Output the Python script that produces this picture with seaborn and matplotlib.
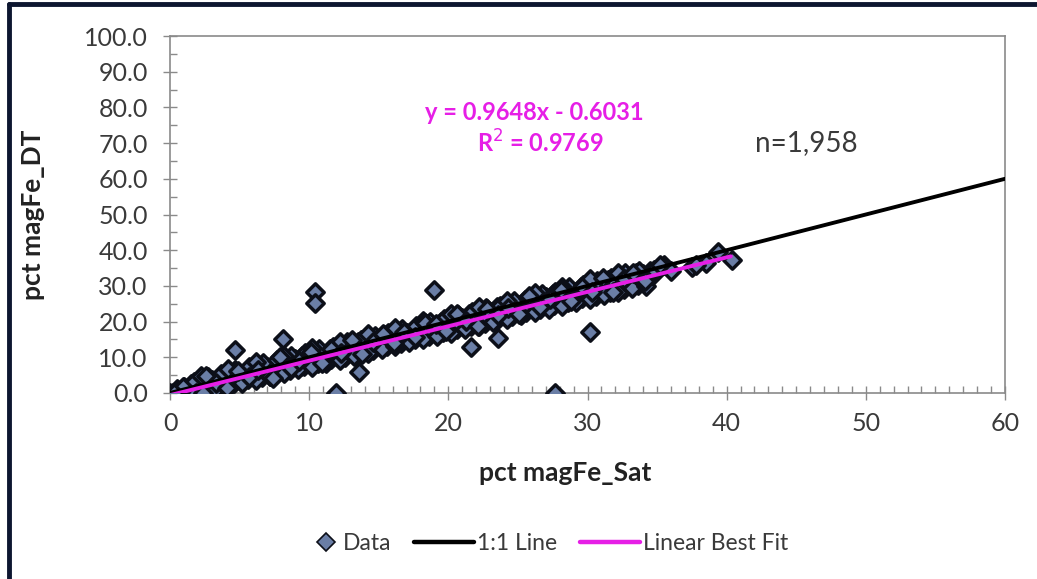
import matplotlib
matplotlib.use("Agg")
import matplotlib.pyplot as plt
from matplotlib.lines import Line2D
from matplotlib.legend_handler import HandlerLine2D
from matplotlib.ticker import MultipleLocator, FormatStrFormatter
import numpy as np
import pandas as pd
import seaborn as sns

# Main band of samples (satellite vs. Davis-tube magnetic Fe, %)
band_x = [
    0.5, 1.5, 2.5, 3.5, 4.5, 5.5, 6.5, 7.5, 8.5, 9.5, 10.5, 11.5, 12.5, 13.5, 14.5,
    15.5, 16.5, 17.5, 18.5, 19.5, 20.5, 21.5, 22.5, 23.5, 24.5, 25.5, 26.5, 27.5,
    28.5, 29.5, 30.5, 31.5, 32.5, 33.5, 34.5, 35.5,
    1.0, 2.0, 3.0, 4.0, 5.0, 6.0, 7.0, 8.0, 9.0, 10.0, 11.0, 12.0, 13.0, 14.0, 15.0,
    16.0, 17.0, 18.0, 19.0, 20.0, 21.0, 22.0, 23.0, 24.0, 25.0, 26.0, 27.0, 28.0,
    29.0, 30.0, 31.0, 32.0, 33.0, 34.0,
    0.8, 1.8, 2.8, 3.8, 4.8, 5.8, 6.8, 7.8, 8.8, 9.8, 10.8, 11.8, 12.8, 13.8, 14.8,
    15.8, 16.8, 17.8, 18.8, 19.8, 20.8, 21.8, 22.8, 23.8, 24.8, 25.8, 26.8, 27.8,
    28.8, 29.8, 30.8, 31.8, 32.8, 33.8, 34.8,
    0.2, 1.0, 2.0, 3.0, 4.0, 5.0, 6.0, 7.0, 8.0, 9.0, 10.0, 11.0, 12.0, 13.0, 14.0,
    15.0, 16.0, 17.0, 18.0, 19.0, 20.0, 21.0, 22.0, 23.0, 24.0, 25.0, 26.0, 27.0,
    28.0, 29.0, 30.0, 31.0, 32.0, 33.0, 34.0, 36.0, 37.5, 38.5,
    1.4, 2.4, 3.4, 4.4, 5.4, 6.4, 7.4, 8.4, 9.4, 10.4, 11.4, 12.4, 13.4, 14.4, 15.4,
    16.4, 17.4, 18.4, 19.4, 20.4, 21.4, 22.4, 23.4, 24.4, 25.4, 26.4, 27.4, 28.4,
    29.4, 30.4, 31.4, 32.4, 33.4,
    0.6, 1.6, 2.6, 3.6, 4.6, 5.6, 6.6, 7.6, 8.6, 9.6, 10.6, 11.6, 12.6, 13.6, 14.6,
    15.6, 16.6, 17.6, 18.6, 19.6, 20.6, 21.6, 22.6, 23.6, 24.6, 25.6, 26.6, 27.6,
    28.6, 29.6, 30.6, 31.6, 32.6, 33.6,
    1.2, 2.2, 3.2, 4.2, 5.2, 6.2, 7.2, 8.2, 9.2, 10.2, 11.2, 12.2, 13.2, 14.2, 15.2,
    16.2, 17.2, 18.2, 19.2, 20.2, 21.2, 22.2, 23.2, 24.2, 25.2, 26.2, 27.2, 28.2,
    29.2, 30.2, 31.2, 32.2, 33.2, 34.2,
    1.7, 2.7, 3.7, 4.7, 5.7, 6.7, 7.7, 8.7, 9.7, 10.7, 11.7, 12.7, 13.7, 14.7, 15.7,
    16.7, 17.7, 18.7, 19.7, 20.7, 21.7, 22.7, 23.7, 24.7, 25.7, 26.7, 27.7, 28.7,
    29.7, 30.7, 31.7, 32.7, 33.7,
    2.2, 4.2, 6.2, 8.2, 10.2, 12.2, 14.2, 16.2, 18.2, 20.2, 22.2, 24.2, 26.2, 28.2,
    30.2, 32.2,
    0.9, 1.9, 2.6, 3.3, 4.1, 4.9, 5.7, 6.3, 7.2, 7.9, 8.7, 9.3, 10.1, 10.9, 11.6,
    12.3, 13.1, 13.8, 14.6, 15.3, 16.1, 16.8, 17.6, 18.3, 19.1, 19.8, 20.6, 21.3,
    22.1, 22.8, 23.6, 24.3, 25.1, 25.8, 26.6, 27.3, 28.1, 28.8, 29.6, 30.3, 31.1,
    31.8, 32.6, 33.3, 34.1, 34.8,
]
band_y = [
    1.2, 2.5, 3.3, 4.4, 5.1, 6.3, 7.0, 8.2, 9.1, 10.3, 11.0, 12.4, 13.1, 14.3, 15.0,
    16.2, 17.1, 18.0, 19.2, 20.0, 21.1, 22.2, 23.0, 24.1, 24.9, 26.0, 27.0, 27.8,
    28.9, 29.7, 30.8, 31.6, 32.4, 33.6, 34.2, 35.9,
    1.6, 2.3, 3.6, 4.5, 5.2, 6.5, 7.4, 8.1, 9.4, 10.3, 11.0, 12.3, 13.1, 13.9, 15.2,
    16.0, 16.8, 18.1, 18.9, 19.7, 21.0, 21.8, 22.6, 23.9, 24.7, 25.5, 26.8, 27.6,
    28.4, 29.7, 30.5, 31.3, 32.5, 33.4,
    0.9, 1.9, 2.7, 3.9, 4.6, 5.8, 6.5, 7.7, 8.5, 9.7, 10.4, 11.6, 12.4, 13.5, 14.3,
    15.4, 16.2, 17.3, 18.1, 19.2, 20.0, 21.1, 21.9, 23.0, 23.8, 24.9, 25.7, 26.8,
    27.6, 28.7, 29.6, 30.7, 31.5, 32.7, 33.4,
    0.0, 0.6, 1.4, 2.3, 3.3, 4.2, 5.1, 6.2, 7.1, 8.1, 9.0, 10.1, 11.0, 12.0, 12.9,
    13.9, 14.9, 15.8, 16.8, 17.7, 18.8, 19.6, 20.7, 21.6, 22.6, 23.5, 24.5, 25.4,
    26.5, 27.3, 28.4, 29.3, 30.3, 31.2, 32.3, 34.2, 35.4, 36.5,
    0.1, 0.9, 1.9, 2.6, 3.8, 4.9, 5.7, 6.6, 7.7, 8.7, 9.6, 10.5, 11.5, 12.6, 13.5,
    14.3, 15.4, 16.5, 17.3, 18.2, 19.2, 20.3, 21.2, 22.0, 23.1, 24.2, 25.0, 25.9,
    27.0, 28.0, 28.9, 29.8, 30.8,
    0.0, 0.3, 1.0, 1.9, 2.7, 3.8, 4.5, 5.6, 6.4, 7.5, 8.3, 9.4, 10.2, 11.3, 12.1,
    13.2, 14.0, 15.1, 15.9, 17.0, 17.8, 18.9, 19.7, 20.8, 21.6, 22.7, 23.5, 24.6,
    25.4, 26.5, 27.3, 28.3, 29.2, 30.2,
    0.0, 0.1, 0.8, 1.9, 2.8, 3.6, 4.7, 5.5, 6.6, 7.4, 8.5, 9.3, 10.4, 11.2, 12.3,
    13.1, 14.2, 15.0, 16.1, 16.9, 18.0, 18.8, 19.9, 20.8, 21.8, 22.6, 23.6, 24.5,
    25.5, 26.3, 27.4, 28.2, 29.3, 30.1,
    3.2, 4.4, 5.3, 6.5, 7.2, 8.4, 9.2, 10.3, 11.1, 12.3, 13.0, 14.2, 14.9, 16.1, 16.8,
    18.0, 18.8, 19.9, 20.7, 21.9, 22.6, 23.8, 24.5, 25.8, 26.5, 27.7, 28.4, 29.6,
    30.3, 31.5, 32.2, 33.5, 34.2,
    4.7, 6.6, 8.7, 10.4, 12.5, 14.3, 16.4, 18.1, 20.3, 22.0, 24.1, 25.9, 28.0, 29.7,
    31.8, 33.6,
    1.8, 0.1, 4.7, 2.9, 1.5, 6.2, 4.5, 6.5, 4.8, 10.0, 6.9, 9.0, 11.6, 8.5, 12.4,
    11.1, 14.9, 10.9, 14.4, 16.4, 13.9, 17.0, 15.8, 19.7, 19.3, 17.3, 22.1, 20.3,
    18.8, 23.5, 21.8, 23.9, 22.0, 27.3, 24.2, 26.3, 28.9, 25.8, 29.8, 28.4, 32.3,
    28.3, 31.8, 33.7, 31.3, 34.4,
]

# Scattered samples away from the main trend
outlier_x = [0.0, 0.3, 2.4, 4.7, 7.4, 8.1, 10.4, 10.4, 11.9, 13.6, 19.0,
             21.6, 23.6, 27.7, 30.2, 35.2, 37.8, 39.4, 40.4]
outlier_y = [0.0, 0.0, 0.0, 12.0, 4.2, 15.1, 28.3, 25.2, 0.0, 6.0, 28.8,
             12.9, 15.4, 0.0, 17.1, 35.9, 35.9, 39.5, 37.3]

# Reference lines
one_to_one_x = [0, 60]
fit_slope = 0.9648
fit_intercept = -0.6031
fit_r2 = 0.9769
fit_x_range = [0.0, 40.3]
n_samples = "1,958"

x_ticks = [0, 10, 20, 30, 40, 50, 60]
y_ticks = [0, 10, 20, 30, 40, 50, 60, 70, 80, 90, 100]

sns.set_style("white")
plt.rcParams["font.family"] = ["Lato", "DejaVu Sans"]

data = pd.DataFrame({
    "sat": band_x + outlier_x,
    "dt": band_y + outlier_y,
})

magenta = "#e61fe6"
marker_face = "#6a7ea6"
marker_edge = "#0c0f18"
text_gray = "#3a3a3a"


class MarkerNearText(HandlerLine2D):
    """Legend handler that puts the marker close to its label."""

    def create_artists(self, legend, orig_handle, xdescent, ydescent,
                       width, height, fontsize, trans):
        artists = super().create_artists(legend, orig_handle, xdescent,
                                         ydescent, width, height, fontsize,
                                         trans)
        for art in artists:
            if art.get_marker() not in (None, "None", "", " "):
                art.set_xdata([width - 0.6 * fontsize])
        return artists


fig = plt.figure(figsize=(10.37, 5.79), dpi=100)
ax = fig.add_axes([170 / 1037, 1 - 393 / 579, 835 / 1037, 357 / 579])

sns.scatterplot(data=data, x="sat", y="dt", marker="D", s=78,
                color=marker_face, edgecolor=marker_edge, linewidth=2.5,
                ax=ax, zorder=3, legend=False)

sns.lineplot(x=one_to_one_x, y=one_to_one_x, color="black", linewidth=2.8,
             ax=ax, zorder=4)

fit_line_y = [fit_slope * v + fit_intercept for v in fit_x_range]
sns.lineplot(x=fit_x_range, y=fit_line_y, color=magenta, linewidth=2.8,
             ax=ax, zorder=5)

ax.set_xlim(0, 60)
ax.set_ylim(0, 100)
ax.set_xticks(x_ticks)
ax.set_yticks(y_ticks)
ax.yaxis.set_major_formatter(FormatStrFormatter("%.1f"))
ax.xaxis.set_minor_locator(MultipleLocator(1))
ax.yaxis.set_minor_locator(MultipleLocator(5))

for side in ["left", "right", "top", "bottom"]:
    ax.spines[side].set_visible(True)
    ax.spines[side].set_color("#8a8a8a")
    ax.spines[side].set_linewidth(1.2)

ax.tick_params(axis="both", which="major", direction="inout", length=10,
               width=1.0, color="#8a8a8a", labelsize=18, labelcolor=text_gray)
ax.tick_params(axis="both", which="minor", direction="in", length=5,
               width=1.0, color="#8a8a8a")
ax.tick_params(axis="x", which="both", bottom=True, top=False)
ax.tick_params(axis="y", which="both", left=True, right=False)
ax.tick_params(axis="x", which="major", pad=9)
ax.tick_params(axis="y", which="major", pad=11)

ax.set_xlabel("pct magFe_Sat", fontsize=19, fontweight="bold", color="#222222")
ax.set_ylabel("pct magFe_DT", fontsize=19, fontweight="bold", color="#222222")
ax.xaxis.set_label_coords(0.473, -0.19)
ax.yaxis.set_label_coords(-0.15, 0.5)

sign = "-" if fit_intercept < 0 else "+"
ax.text(26.2, 78.7, f"y = {fit_slope:.4f}x {sign} {abs(fit_intercept):.4f}",
        color=magenta, fontsize=17, fontweight="bold", ha="center", va="center")
ax.text(26.6, 70.0, f"R$^2$ = {fit_r2:.4f}", color=magenta, fontsize=17,
        fontweight="bold", ha="center", va="center")
ax.text(45.7, 70.0, f"n={n_samples}", color=text_gray, fontsize=20,
        ha="center", va="center")

data_handle = Line2D([], [], linestyle="none", marker="D", markersize=9,
                     markerfacecolor=marker_face, markeredgecolor=marker_edge,
                     markeredgewidth=1.2)
handles = [
    data_handle,
    Line2D([], [], color="black", linewidth=3.2),
    Line2D([], [], color=magenta, linewidth=3.2),
]
fig.legend(handles, ["Data", "1:1 Line", "Linear Best Fit"], loc="center",
           bbox_to_anchor=(0.515, 0.062), ncol=3, frameon=False, fontsize=16.5,
           handlelength=2.6, handletextpad=0.15, columnspacing=1.0,
           labelcolor=text_gray, handler_map={data_handle: MarkerNearText()})

# Dark frame along the top and left edges of the chart image
fig.add_artist(Line2D([9 / 1037, 1.0], [1 - 4 / 579, 1 - 4 / 579],
                      transform=fig.transFigure, color="#0d1630", linewidth=3.5))
fig.add_artist(Line2D([9 / 1037, 9 / 1037], [0.0, 1 - 4 / 579],
                      transform=fig.transFigure, color="#0d1630", linewidth=3.5))

fig.savefig("out.png", dpi=100, facecolor="white")
